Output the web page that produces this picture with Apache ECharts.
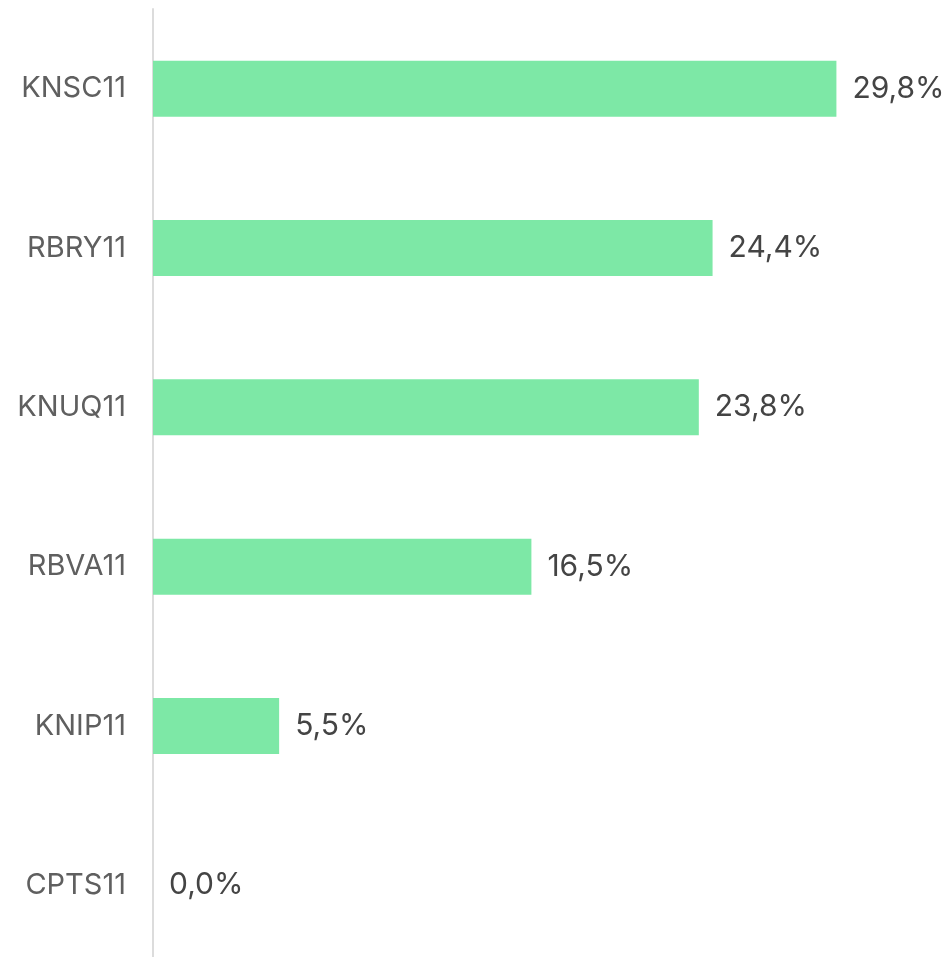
<!DOCTYPE html>
<html>
<head>
<meta charset="utf-8">
<script src="https://cdn.jsdelivr.net/npm/echarts@6/dist/echarts.min.js"></script>
<style>
  html, body { margin: 0; padding: 0; background: #fff; }
  #main { width: 951px; height: 957px; }
</style>
</head>
<body>
<div id="main"></div>
<script>
// dados do gráfico (de cima para baixo)
var tickers = ["KNSC11", "RBRY11", "KNUQ11", "RBVA11", "KNIP11", "CPTS11"];
var valores = [29.8, 24.4, 23.8, 16.5, 5.5, 0.0];

var chart = echarts.init(document.getElementById("main"));

var option = {
    animation: false,
    grid: {
        left: 153,
        top: 9,
        height: 956,
        width: 688,
        outerBoundsMode: "none"
    },
    xAxis: {
        type: "value",
        min: 0,
        max: 30,
        show: false
    },
    yAxis: {
        type: "category",
        inverse: true,
        data: tickers,
        axisLine: { show: true, lineStyle: { color: "#dcdcdc", width: 2 } },
        axisTick: { show: false },
        axisLabel: {
            margin: 27,
            color: "#5f5f5f",
            fontSize: 29,
            fontFamily: "Inter"
        }
    },
    series: [
        {
            type: "bar",
            data: valores,
            barWidth: 56,
            itemStyle: { color: "#7de8a6" },
            label: {
                show: true,
                position: "right",
                distance: 16,
                color: "#444",
                fontSize: 30,
                fontFamily: "Inter",
                formatter: function (p) {
                    return p.value.toFixed(1).replace(".", ",") + "%";
                }
            }
        }
    ]
};

chart.setOption(option);
</script>
</body>
</html>
